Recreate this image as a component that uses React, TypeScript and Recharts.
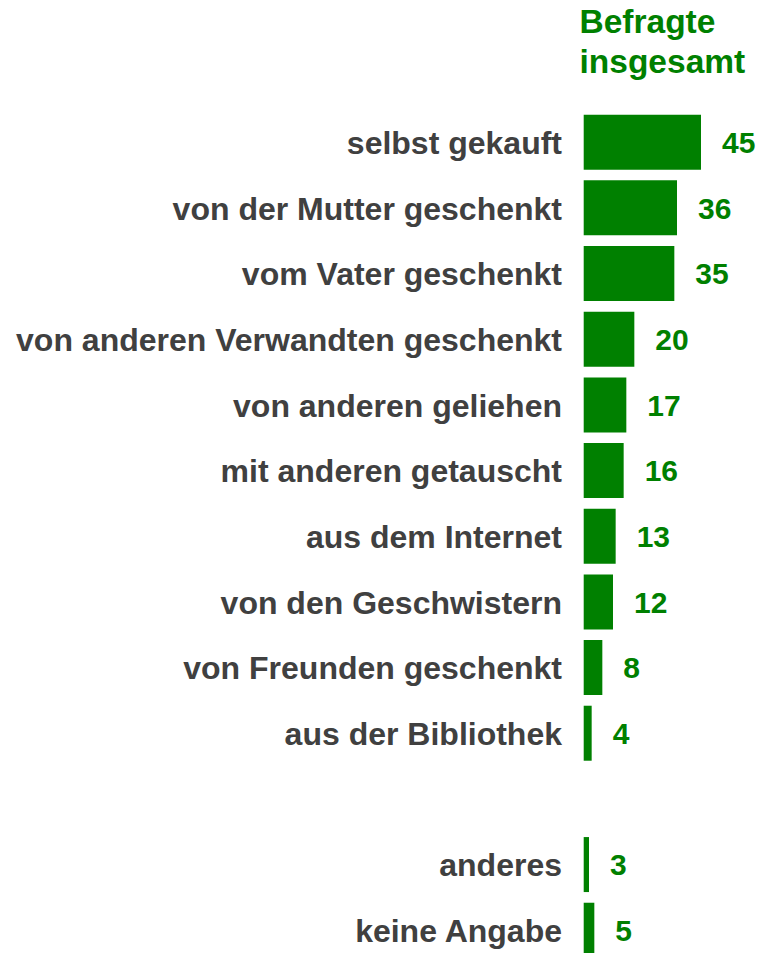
import React from "react";
import {BarChart, Bar, XAxis, YAxis, LabelList} from "recharts";

const GREEN = "#008000";
const FONT = "'Liberation Sans', Arial, sans-serif";

// leeres Feld = Abstand vor "anderes"
const categories = [
    "selbst gekauft",
    "von der Mutter geschenkt",
    "vom Vater geschenkt",
    "von anderen Verwandten geschenkt",
    "von anderen geliehen",
    "mit anderen getauscht",
    "aus dem Internet",
    "von den Geschwistern",
    "von Freunden geschenkt",
    "aus der Bibliothek",
    "",
    "anderes",
    "keine Angabe",
];
const values: (number | null)[] = [45, 36, 35, 20, 17, 16, 13, 12, 8, 4, null, 3, 5];

const data = categories.map((name, i) => ({name, value: values[i]}));

export default function App() {
    return (
        <div style={{width: 760, height: 953, overflow: "hidden"}}>
            <style>{"body { margin: 0; }"}</style>
            <BarChart
                width={760}
                height={970}
                data={data}
                layout="vertical"
                margin={{top: 109.7, right: 59, bottom: 6.6, left: 0}}
            >
                <XAxis type="number" domain={[0, 45]} hide/>
                <YAxis
                    type="category"
                    dataKey="name"
                    width={581}
                    axisLine={{stroke: "#ffffff", strokeWidth: 5.4}} // weisser Spalt vor den Balken
                    tickLine={false}
                    tickSize={0}
                    tickMargin={19}
                    interval={0}
                    tick={{fill: "#404040", fontSize: 32, fontWeight: "bold", fontFamily: FONT}}
                />
                <Bar dataKey="value" fill={GREEN} barSize={55} isAnimationActive={false}>
                    <LabelList
                        dataKey="value"
                        position="right"
                        offset={21}
                        fill={GREEN}
                        style={{fontSize: 30, fontWeight: "bold", fontFamily: FONT}}
                    />
                </Bar>
                <text x={579.5} y={32.5} fill={GREEN} style={{fontSize: 33.5, fontWeight: "bold", fontFamily: FONT}}>
                    Befragte
                </text>
                <text x={579.5} y={72.5} fill={GREEN} style={{fontSize: 33.5, fontWeight: "bold", fontFamily: FONT}}>
                    insgesamt
                </text>
            </BarChart>
        </div>
    );
}
